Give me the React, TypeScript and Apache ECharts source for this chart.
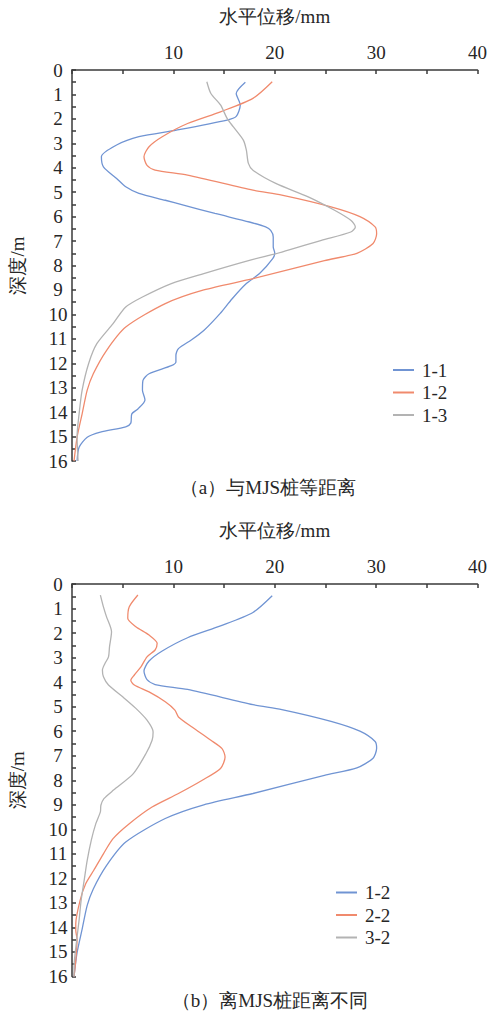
import React, { useEffect, useRef } from "react";
import * as echarts from "echarts";

// Depth (m) and horizontal displacement (mm) for each inclinometer
const depth11 = [0.5, 0.96, 1.43, 1.9, 2.05, 2.46, 2.73, 3.07, 3.55, 3.96, 4.44, 4.78, 5.05, 5.33, 5.53, 5.87, 6.22, 6.42, 6.56, 6.83, 7.24, 7.49, 7.72, 8.33, 8.74, 9.36, 9.97, 10.66, 11.04, 11.4, 11.68, 11.95, 12.1, 12.43, 12.7, 13.1, 13.5, 13.87, 14.07, 14.45, 14.6, 14.82, 15.03, 15.44, 16];
const disp11 = [17.1, 16.2, 16.6, 16.2, 15.3, 10.3, 6.6, 4.4, 2.9, 3.1, 4.4, 5.3, 6.6, 9.2, 11.0, 14.1, 17.5, 19.1, 19.6, 19.85, 19.85, 20.0, 19.8, 18.5, 17.2, 15.8, 14.6, 13.0, 11.8, 10.5, 10.25, 10.25, 9.8, 7.6, 7.0, 6.95, 7.2, 6.5, 5.9, 5.8, 5.3, 2.8, 1.5, 0.7, 0.5];

const depth12 = [0.48, 1.16, 1.71, 2.19, 2.73, 3.14, 3.55, 3.9, 4.1, 4.3, 4.92, 5.12, 5.6, 6.0, 6.42, 6.7, 7.1, 7.5, 7.8, 8.54, 9.0, 9.56, 10.52, 11.48, 12.43, 13.1, 14.07, 15.03, 16];
const disp12 = [19.75, 17.85, 14.65, 11.4, 8.9, 7.6, 7.1, 7.4, 8.2, 11.4, 17.85, 20.7, 25.55, 28.4, 29.9, 30.05, 29.7, 28.1, 24.9, 17.85, 13.0, 9.2, 5.3, 3.4, 2.1, 1.5, 1.0, 0.5, 0.2];

const depth13 = [0.48, 0.96, 1.43, 1.98, 2.32, 2.87, 3.28, 3.82, 4.1, 4.64, 5.19, 5.74, 6.15, 6.42, 6.63, 6.97, 7.45, 7.79, 8.33, 8.74, 9.29, 9.7, 10.38, 11.2, 12.0, 13.1, 14.07, 15.0, 16];
const disp13 = [13.3, 13.7, 14.65, 15.3, 15.9, 16.9, 17.2, 17.4, 17.85, 20.1, 23.3, 25.9, 27.5, 27.95, 27.5, 24.6, 20.7, 17.5, 13.0, 9.8, 6.95, 5.3, 4.05, 2.45, 1.65, 1.0, 0.7, 0.5, 0.6];

const depth22 = [0.45, 0.93, 1.4, 1.74, 2.08, 2.42, 2.69, 2.97, 3.38, 3.71, 3.92, 4.12, 4.4, 4.8, 5.14, 5.42, 5.82, 6.37, 6.71, 7.05, 7.52, 8.0, 8.54, 9.09, 9.77, 10.38, 11.0, 11.67, 12.22, 12.9, 13.85, 14.1, 14.5, 15.35, 16];
const disp22 = [6.5, 5.65, 5.5, 6.3, 7.6, 8.4, 8.2, 7.4, 6.8, 6.15, 5.8, 6.15, 7.6, 9.2, 10.15, 10.5, 11.8, 13.7, 14.8, 15.1, 14.65, 12.85, 10.5, 7.9, 5.65, 4.05, 3.1, 2.15, 1.35, 0.8, 0.37, 0.37, 0.5, 0.37, 0.2];

const depth32 = [0.45, 0.93, 1.33, 1.95, 2.56, 2.97, 3.24, 3.51, 3.78, 4.12, 4.6, 5.07, 5.55, 6.03, 6.37, 6.91, 7.73, 8.4, 8.75, 9.02, 9.29, 9.77, 10.45, 11.27, 12.08, 12.9, 13.7, 14.53, 15.62, 16];
const disp32 = [2.8, 3.1, 3.4, 3.9, 3.7, 3.6, 3.25, 3.0, 3.1, 3.6, 5.0, 6.3, 7.4, 8.0, 7.9, 7.3, 6.05, 4.1, 3.15, 2.85, 2.8, 2.35, 1.9, 1.5, 1.2, 0.9, 0.7, 0.46, 0.2, 0.2];

const topNames = ["1-1", "1-2", "1-3"];
const bottomNames = ["1-2", "2-2", "3-2"];
const captions = ["（a）与MJS桩等距离", "（b）离MJS桩距离不同"];
const xAxisTitle = "水平位移/mm";
const yAxisTitle = "深度/m";

const BLUE = "#7094d3";
const ORANGE = "#f08a6d";
const GRAY = "#b3b3b3";
const INK = "#262626";
const AXIS = "#3a3a3a";
const FONT = "serif";

// Shared rich-text style so component labels carry the serif face
const serif19 = { fontSize: 19, fontFamily: FONT, color: INK };
const richText = { s: serif19 };

const toPoints = (d: number[], v: number[]) => v.map((x, i) => [x, d[i]]);

const xAxisFor = (gridIndex: number) => ({
  type: "value",
  gridIndex,
  position: "top",
  min: 0,
  max: 40,
  interval: 10,
  name: `{s|${xAxisTitle}}`,
  nameLocation: "middle",
  nameGap: 44,
  nameTextStyle: { ...serif19, rich: richText },
  axisLine: { show: true, lineStyle: { color: AXIS, width: 1.5 } },
  axisTick: { show: true, inside: true, length: 4, lineStyle: { color: AXIS, width: 1.5 } },
  minorTick: { show: true, splitNumber: 2, length: 4, lineStyle: { color: AXIS, width: 1.5 } },
  splitLine: { show: false },
  axisLabel: {
    showMinLabel: false,
    ...serif19,
    margin: 8,
    formatter: (v: number) => `{s|${v}}`,
    rich: richText,
  },
});

const yAxisFor = (gridIndex: number) => ({
  type: "value",
  gridIndex,
  inverse: true,
  min: 0,
  max: 16,
  interval: 1,
  name: `{s|${yAxisTitle}}`,
  nameLocation: "middle",
  nameRotate: 90,
  nameGap: 45,
  nameTextStyle: { ...serif19, rich: richText },
  axisLine: { show: true, onZero: false, lineStyle: { color: AXIS, width: 1.5 } },
  axisTick: { show: true, inside: true, length: 4, lineStyle: { color: AXIS, width: 1.5 } },
  minorTick: { show: true, splitNumber: 2, length: 4, lineStyle: { color: AXIS, width: 1.5 } },
  splitLine: { show: false },
  axisLabel: {
    ...serif19,
    align: "center",
    margin: 14,
    formatter: (v: number) => `{s|${v}}`,
    rich: richText,
  },
});

const lineSeries = (name: string, color: string, d: number[], v: number[], idx: number) => ({
  type: "line",
  name,
  xAxisIndex: idx,
  yAxisIndex: idx,
  data: toPoints(d, v),
  symbol: "none",
  smooth: 0.25,
  lineStyle: { color, width: 1.3 },
  itemStyle: { color },
});

const legendFor = (names: string[], colors: string[], left: number, top: number) => ({
  orient: "vertical",
  left,
  top,
  icon: "rect",
  itemWidth: 21,
  itemHeight: 2,
  itemGap: 3.5,
  selectedMode: false,
  formatter: (n: string) => `{s|${n}}`,
  textStyle: { ...serif19, lineHeight: 19, padding: [0, 0, 0, 3], rich: { s: { ...serif19, lineHeight: 19 } } },
  data: names.map((n, i) => ({ name: n, itemStyle: { color: colors[i] } })),
});

const textCss = ".depth-chart svg text, .depth-chart svg tspan { font-family: serif !important; }";

export default function App() {
  const ref = useRef<HTMLDivElement>(null);

  useEffect(() => {
    if (!ref.current) return;
    const chart = echarts.init(ref.current, undefined, { renderer: "svg" });
    chart.setOption({
      animation: false,
      backgroundColor: "#ffffff",
      textStyle: { fontFamily: FONT },
      grid: [
        { left: 64.5, top: 70, width: 415.5, height: 391 },
        { left: 64.5, top: 584, width: 415.5, height: 392.5 },
      ],
      xAxis: [xAxisFor(0), xAxisFor(1)],
      yAxis: [yAxisFor(0), yAxisFor(1)],
      legend: [
        legendFor(topNames, [BLUE, ORANGE, GRAY], 388, 355.5),
        legendFor(bottomNames, [BLUE, ORANGE, GRAY], 331, 878),
      ],
      series: [
        lineSeries(topNames[0], BLUE, depth11, disp11, 0),
        lineSeries(topNames[1], ORANGE, depth12, disp12, 0),
        lineSeries(topNames[2], GRAY, depth13, disp13, 0),
        lineSeries(bottomNames[0], BLUE, depth12, disp12, 1),
        lineSeries(bottomNames[1], ORANGE, depth22, disp22, 1),
        lineSeries(bottomNames[2], GRAY, depth32, disp32, 1),
      ],
      graphic: [
        {
          type: "text",
          x: 268,
          y: 487,
          style: { text: captions[0], fontSize: 19, fontFamily: FONT, fill: INK, align: "center", verticalAlign: "middle" },
        },
        {
          type: "text",
          x: 270,
          y: 1000,
          style: { text: captions[1], fontSize: 19, fontFamily: FONT, fill: INK, align: "center", verticalAlign: "middle" },
        },
      ],
    });
    return () => chart.dispose();
  }, []);

  return (
    <>
      <style>{textCss}</style>
      <div
        ref={ref}
        className="depth-chart"
        style={{ position: "absolute", left: 0, top: 0, width: 490, height: 1014 }}
      />
    </>
  );
}
